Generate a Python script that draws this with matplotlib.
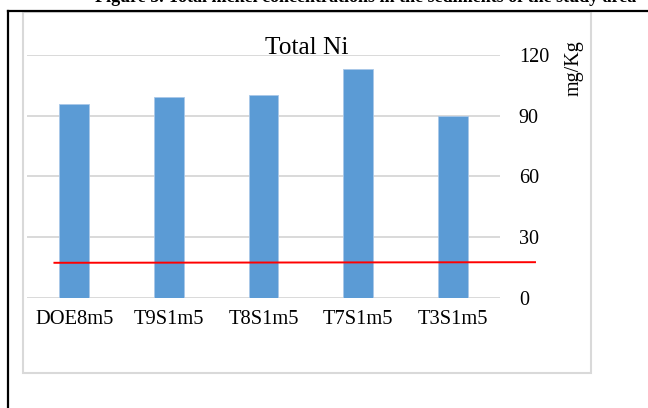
import matplotlib.pyplot as plt
from matplotlib.lines import Line2D
from matplotlib.patches import Rectangle

# --- Dane ---
samples = ["DOE8m5", "T9S1m5", "T8S1m5", "T7S1m5", "T3S1m5"]
total_ni = [96, 99, 100, 113, 90]  # mg/Kg
limit_level = [17.3, 17.6]  # czerwona linia (poczatek, koniec)
y_ticks = [0, 30, 60, 90, 120]

W, H = 648, 408
plt.rcParams["font.family"] = ["Liberation Serif", "DejaVu Serif"]

fig = plt.figure(figsize=(W / 100, H / 100), dpi=100)


def fx(x):
    return x / W


def fy(y):
    return 1 - y / H


# obszar wykresu
ax = fig.add_axes([fx(27), fy(297.8), fx(500) - fx(27), fy(55) - fy(297.8)])

x = list(range(len(samples)))
ax.bar(x, total_ni, width=0.317, color="#5b9bd5", edgecolor="#a9c8e8", linewidth=0.6, zorder=3)

# linia referencyjna (wychodzi poza obszar wykresu)
ax.plot([-0.21, 4.87], limit_level, color="#ff0000", linewidth=1.4, clip_on=False, zorder=4)

ax.set_xlim(-0.5, 4.5)
ax.set_ylim(0, 120)
ax.set_yticks(y_ticks)
ax.set_xticks(x)
ax.set_xticklabels(samples)
ax.yaxis.tick_right()
ax.tick_params(axis="y", length=0, pad=13.5, labelsize=14.5)
ax.tick_params(axis="x", length=0, pad=9, labelsize=14.8)
ax.grid(axis="y", color="#d9d9d9", linewidth=1.4, zorder=0)
for s in ax.spines.values():
    s.set_visible(False)

# tytul i jednostka
fig.text(fx(306.8), fy(54.3), "Total Ni", ha="center", va="baseline", fontsize=18.3)
fig.text(fx(574), fy(68), "mg/Kg", rotation=90, ha="center", va="center", fontsize=14.5)

# ramka wykresu (szara) i ramka dokumentu (czarna)
fig.add_artist(Rectangle((fx(22.5), fy(372.5)), fx(591) - fx(22.5), fy(11.5) - fy(372.5),
                         transform=fig.transFigure, fill=False, edgecolor="#d9d9d9", linewidth=1.5))
fig.add_artist(Line2D([fx(8.2), fx(8.2)], [fy(10.5), fy(410)], transform=fig.transFigure,
                      color="black", linewidth=1.6))
fig.add_artist(Line2D([fx(7.5), fx(650)], [fy(11), fy(11)], transform=fig.transFigure,
                      color="black", linewidth=1.6))

# ucieta linia tekstu z dokumentu powyzej (widoczny tylko dol liter)
fig.text(fx(95), fy(2.5), "Figure 5. Total nickel concentrations in the sediments of the study area",
         ha="left", va="baseline", fontsize=13, fontweight="bold")

fig.savefig("out.png", dpi=100)
